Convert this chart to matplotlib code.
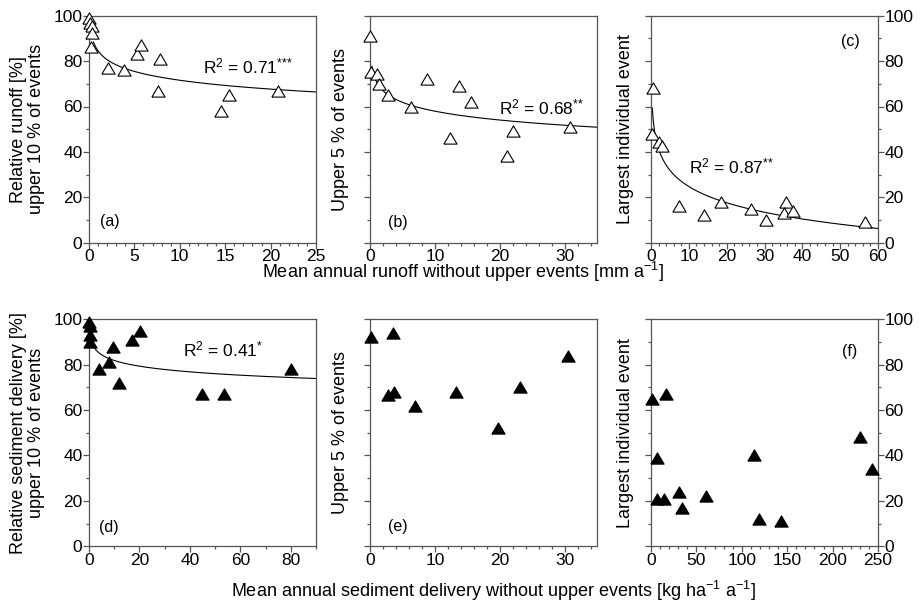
import numpy as np
import matplotlib
matplotlib.use('Agg')
import matplotlib.pyplot as plt
from matplotlib.ticker import MultipleLocator

plt.rcParams['font.family'] = ['Liberation Sans', 'DejaVu Sans']
plt.rcParams['mathtext.fontset'] = 'custom'
plt.rcParams['mathtext.rm'] = 'Liberation Sans'
plt.rcParams['mathtext.it'] = 'Liberation Sans:italic'

# Runoff panels (open triangles)
x_a = [0.05, 0.15, 0.3, 0.35, 0.2, 2.1, 3.8, 5.3, 5.7, 7.8, 7.6, 14.5, 15.4, 20.8]
y_a = [99.0, 97.0, 95.5, 92.5, 86.0, 77.0, 76.0, 83.0, 87.0, 81.0, 67.0, 58.0, 65.0, 67.0]

x_b = [0.05, 0.1, 1.1, 1.4, 2.8, 6.3, 8.8, 12.4, 13.7, 15.5, 21.1, 22.1, 30.9]
y_b = [91.0, 75.0, 74.5, 70.0, 65.0, 60.0, 72.0, 46.0, 69.0, 62.0, 38.0, 49.0, 51.0]

x_c = [0.6, 0.35, 2.1, 3.0, 7.4, 14.0, 18.6, 26.4, 30.5, 35.6, 35.2, 37.5, 56.5]
y_c = [68.0, 48.0, 44.5, 42.5, 16.0, 12.0, 18.0, 15.0, 10.0, 18.0, 13.0, 14.0, 9.0]

# Sediment panels (filled triangles)
x_d = [0.1, 0.4, 0.4, 0.4, 4.0, 7.9, 9.4, 11.8, 17.0, 20.3, 44.9, 53.5, 80.0]
y_d = [99.0, 97.0, 93.0, 90.0, 78.0, 81.0, 88.0, 72.0, 91.0, 95.0, 67.0, 67.0, 78.0]

x_e = [0.2, 3.6, 2.8, 3.7, 6.9, 13.3, 19.7, 23.2, 30.6]
y_e = [92.0, 94.0, 66.5, 68.0, 62.0, 68.0, 52.0, 70.0, 84.0]

x_f = [0.8, 17.0, 6.3, 6.3, 14.7, 31.3, 34.2, 60.8, 113.4, 118.9, 143.6, 229.8, 243.0]
y_f = [65.0, 67.0, 39.0, 21.0, 21.0, 24.0, 17.0, 22.0, 40.0, 12.0, 11.0, 48.0, 34.0]

panel_labels = ['(a)', '(b)', '(c)', '(d)', '(e)', '(f)']
r2_labels = [r'R$^2$ = 0.71$^{{*}{*}{*}}$', r'R$^2$ = 0.68$^{{*}{*}}$',
             r'R$^2$ = 0.87$^{{*}{*}}$', r'R$^2$ = 0.41$^{{*}}$']
ylabels = ['Relative runoff [%]\nupper 10 % of events', 'Upper 5 % of events',
           'Largest individual event',
           'Relative sediment delivery [%]\nupper 10 % of events', 'Upper 5 % of events',
           'Largest individual event']

W, H = 921, 602
fig = plt.figure(figsize=(W / 100, H / 100), dpi=100)

lefts = [89, 370, 651]
tops = [15.7, 319.3]
size = 227

spine_col = '#555555'
tri = [(-1, -0.85), (1, -0.85), (0, 0.85), (-1, -0.85)]

axes = []
for r in range(2):
    for c in range(3):
        ax = fig.add_axes([lefts[c] / W, 1 - (tops[r] + size) / H, size / W, size / H])
        axes.append(ax)

data = [(x_a, y_a), (x_b, y_b), (x_c, y_c), (x_d, y_d), (x_e, y_e), (x_f, y_f)]
xlims = [25, 35, 60, 90, 35, 250]
xmajor = [5, 10, 10, 20, 10, 50]
xminor = [1, 2, 2, 10, 2, 10]
has_fit = [True, True, True, True, False, False]
fit_start = [0.5, 0.3, 0.35, 0.4]

for i, ax in enumerate(axes):
    xs, ys = data[i]
    xs = np.array(xs)
    ys = np.array(ys)
    filled = i >= 3
    ax.plot(xs, ys, linestyle='none', marker=tri, markersize=9.5,
            markerfacecolor='black' if filled else 'white',
            markeredgecolor='black', markeredgewidth=0.8, zorder=3, clip_on=False)
    if has_fit[i]:
        b, a = np.polyfit(np.log(xs), ys, 1)
        xx = np.linspace(fit_start[i], xlims[i], 400)
        ax.plot(xx, a + b * np.log(xx), color='black', lw=0.8, zorder=2)
    ax.set_xlim(0, xlims[i])
    ax.set_ylim(0, 100)
    ax.xaxis.set_major_locator(MultipleLocator(xmajor[i]))
    ax.xaxis.set_minor_locator(MultipleLocator(xminor[i]))
    ax.yaxis.set_major_locator(MultipleLocator(20))
    ax.yaxis.set_minor_locator(MultipleLocator(10))
    for s in ax.spines.values():
        s.set_color(spine_col)
        s.set_linewidth(0.9)
    ax.tick_params(which='both', direction='out', color=spine_col, width=0.9,
                   top=False, labelsize=12.5, pad=0.5)
    ax.tick_params(which='major', length=4.2)
    ax.tick_params(which='minor', length=2.5)
    col = i % 3
    if col == 0:
        ax.tick_params(which='both', left=True, right=False, labelleft=True)
        pad = 6
    elif col == 1:
        ax.tick_params(which='both', left=True, right=False, labelleft=False)
        pad = 11
    else:
        ax.tick_params(which='both', left=True, right=True, labelleft=False, labelright=True)
        pad = 8
    ax.set_ylabel(ylabels[i], fontsize=13, labelpad=pad, linespacing=1.05)

    # panel letter
    lx, ly = [(0.048, 0.093), (0.079, 0.088), (0.836, 0.885),
              (0.044, 0.084), (0.079, 0.088), (0.841, 0.859)][i]
    ax.text(lx, ly, panel_labels[i], transform=ax.transAxes,
            ha='left', va='center', fontsize=11.5)

r2_pos = [(0.504, 0.775), (0.568, 0.596), (0.169, 0.338), (0.413, 0.866)]
for i, txt in enumerate(r2_labels):
    axes[i].text(r2_pos[i][0], r2_pos[i][1], txt, transform=axes[i].transAxes,
                 ha='left', va='center', fontsize=12.5)

fig.text(463 / W, 1 - 272 / H, 'Mean annual runoff without upper events [mm a$^{-1}$]',
         ha='center', va='center', fontsize=13)
fig.text(494 / W, 1 - 591 / H,
         'Mean annual sediment delivery without upper events [kg ha$^{-1}$ a$^{-1}$]',
         ha='center', va='center', fontsize=13)

fig.savefig('out.png', dpi=100)
